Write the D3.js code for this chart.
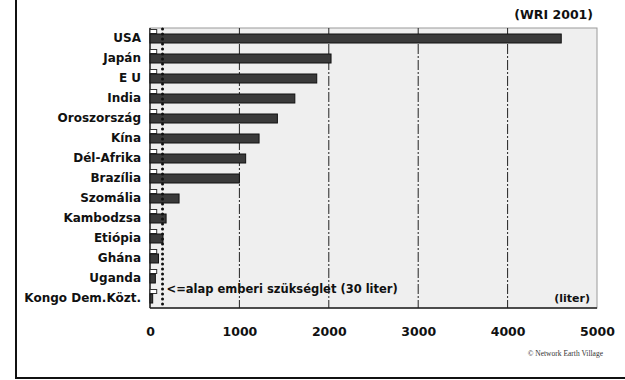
<!DOCTYPE html>
<html>
<head>
<meta charset="utf-8">
<script src="https://cdn.jsdelivr.net/npm/d3@7"></script>
<style>
  body { margin: 0; background: #fff; }
  svg { display: block; }
</style>
</head>
<body>
<script>
const countries = [
  "USA", "Japán", "E U", "India", "Oroszország", "Kína", "Dél-Afrika",
  "Brazília", "Szomália", "Kambodzsa", "Etiópia", "Ghána", "Uganda", "Kongo Dem.Közt."
];
const totalUse = [4600, 2025, 1865, 1620, 1425, 1220, 1070, 1000, 325, 180, 145, 95, 60, 30];
const smallUse = [75, 75, 75, 75, 75, 75, 75, 75, 75, 75, 75, 75, 75, 75];
const xTicks = [0, 1000, 2000, 3000, 4000, 5000];
const basicNeed = 140;

const width = 625;
const height = 380;

const x = d3.scaleLinear().domain([0, 5000]).range([150, 597]);
const y = d3.scaleBand().domain(countries).range([28, 308]);

const svg = d3.select("body").append("svg")
  .attr("width", width)
  .attr("height", height)
  .attr("font-family", "'DejaVu Sans', Verdana, sans-serif");

// title, cut off by the top edge as in the original
svg.append("text")
  .attr("x", 300)
  .attr("y", -4)
  .attr("text-anchor", "middle")
  .attr("font-size", 22)
  .attr("font-weight", "bold")
  .attr("fill", "#222")
  .text("Vízfogyasztás");

// frame lines
svg.append("line").attr("x1", 16).attr("x2", 16).attr("y1", 0).attr("y2", 378)
  .attr("stroke", "#111").attr("stroke-width", 2);
svg.append("line").attr("x1", 15).attr("x2", width).attr("y1", 378).attr("y2", 378)
  .attr("stroke", "#111").attr("stroke-width", 2);

svg.append("text")
  .attr("x", 593).attr("y", 19)
  .attr("text-anchor", "end")
  .attr("font-size", 12.5).attr("font-weight", "bold").attr("fill", "#111")
  .text("(WRI 2001)");

// plot area
svg.append("rect")
  .attr("x", x(0)).attr("y", 28)
  .attr("width", x(5000) - x(0)).attr("height", 280)
  .attr("fill", "#efefef").attr("stroke", "#9a9a9a");
svg.append("line").attr("x1", x(0)).attr("x2", x(5000)).attr("y1", 308).attr("y2", 308)
  .attr("stroke", "#222").attr("stroke-width", 1.5);
svg.append("line").attr("x1", x(0)).attr("x2", x(0)).attr("y1", 28).attr("y2", 308)
  .attr("stroke", "#222").attr("stroke-width", 1.5);

// gridlines
svg.append("g").selectAll("line")
  .data(xTicks.slice(1, -1))
  .join("line")
  .attr("x1", (d) => x(d)).attr("x2", (d) => x(d))
  .attr("y1", 28).attr("y2", 308)
  .attr("stroke", "#222")
  .attr("stroke-dasharray", "10,2,2,2");

// small white bars
svg.append("g").selectAll("rect")
  .data(smallUse)
  .join("rect")
  .attr("x", x(0))
  .attr("y", (d, i) => y(countries[i]) + 1.5)
  .attr("width", (d) => x(d) - x(0))
  .attr("height", 4)
  .attr("fill", "#fff")
  .attr("stroke", "#333");

// main bars
svg.append("g").selectAll("rect")
  .data(totalUse)
  .join("rect")
  .attr("x", x(0))
  .attr("y", (d, i) => y(countries[i]) + 6)
  .attr("width", (d) => x(d) - x(0))
  .attr("height", 9)
  .attr("fill", "#3a3a3a")
  .attr("stroke", "#111");

// basic need dotted line
svg.append("line")
  .attr("x1", x(basicNeed)).attr("x2", x(basicNeed))
  .attr("y1", 29).attr("y2", 308)
  .attr("stroke", "#111")
  .attr("stroke-width", 3)
  .attr("stroke-linecap", "round")
  .attr("stroke-dasharray", "0,5");

svg.append("text")
  .attr("x", x(basicNeed) + 4).attr("y", 293)
  .attr("font-size", 11.5).attr("font-weight", "bold").attr("fill", "#111")
  .text("<=alap emberi szükséglet (30 liter)");

svg.append("text")
  .attr("x", 590).attr("y", 302)
  .attr("text-anchor", "end")
  .attr("font-size", 11).attr("font-weight", "bold").attr("fill", "#111")
  .text("(liter)");

// category labels
svg.append("g").selectAll("text")
  .data(countries)
  .join("text")
  .attr("x", 141)
  .attr("y", (d) => y(d) + y.bandwidth() / 2 + 4)
  .attr("text-anchor", "end")
  .attr("font-size", 12)
  .attr("font-weight", "bold")
  .attr("fill", "#111")
  .text((d) => d);

// x axis
const xAxis = d3.axisBottom(x)
  .tickValues(xTicks)
  .tickFormat(d3.format("d"))
  .tickSize(0)
  .tickPadding(0);
const axisG = svg.append("g")
  .attr("transform", "translate(0, 327)")
  .call(xAxis);
axisG.select(".domain").remove();
axisG.selectAll("text")
  .attr("font-family", "'DejaVu Sans', Verdana, sans-serif")
  .attr("font-size", 12.5)
  .attr("font-weight", "bold")
  .attr("fill", "#111");

svg.append("text")
  .attr("x", 603).attr("y", 356)
  .attr("text-anchor", "end")
  .attr("font-family", "'Liberation Serif', serif")
  .attr("font-size", 7.5)
  .attr("fill", "#333")
  .text("© Network Earth Village");
</script>
</body>
</html>
